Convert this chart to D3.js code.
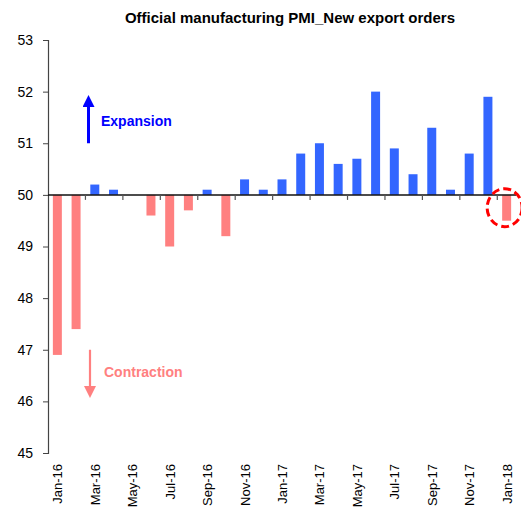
<!DOCTYPE html>
<html>
<head>
<meta charset="utf-8">
<script src="https://cdn.jsdelivr.net/npm/d3@7"></script>
<style>
  html, body { margin: 0; padding: 0; background: #fff; }
  svg { display: block; font-family: "Liberation Sans", Arial, sans-serif; }
</style>
</head>
<body>
<svg id="chart" width="521" height="517"></svg>
<script>
// Monthly categories, Jan-16 .. Jan-18
const months = ["Jan-16","Feb-16","Mar-16","Apr-16","May-16","Jun-16","Jul-16","Aug-16","Sep-16","Oct-16","Nov-16","Dec-16",
                "Jan-17","Feb-17","Mar-17","Apr-17","May-17","Jun-17","Jul-17","Aug-17","Sep-17","Oct-17","Nov-17","Dec-17","Jan-18"];
// New export orders sub-index
const values = [46.9, 47.4, 50.2, 50.1, 50.0, 49.6, 49.0, 49.7, 50.1, 49.2, 50.3, 50.1,
                50.3, 50.8, 51.0, 50.6, 50.7, 52.0, 50.9, 50.4, 51.3, 50.1, 50.8, 51.9, 49.5];
const yTicks = [45, 46, 47, 48, 49, 50, 51, 52, 53];
const xLabels = ["Jan-16","Mar-16","May-16","Jul-16","Sep-16","Nov-16","Jan-17","Mar-17","May-17","Jul-17","Sep-17","Nov-17","Jan-18"];
const baseline = 50;

const svg = d3.select("#chart");
const plotLeft = 48, plotRight = 516, plotTop = 40, plotBottom = 453;

const x = d3.scaleBand().domain(months).range([plotLeft, plotRight]).paddingInner(0.52).paddingOuter(0.26);
const y = d3.scaleLinear().domain([45, 53]).range([plotBottom, plotTop]);

// Title
svg.append("text")
  .attr("x", 290).attr("y", 23)
  .attr("text-anchor", "middle")
  .attr("font-size", 15).attr("font-weight", "bold")
  .attr("fill", "#000")
  .text("Official manufacturing PMI_New export orders");

// Y axis
const yAxis = svg.append("g")
  .attr("transform", `translate(${plotLeft},0)`)
  .call(d3.axisLeft(y).tickValues(yTicks).tickSize(5).tickPadding(10).tickFormat(d3.format("d")));
yAxis.select(".domain").attr("stroke", "#444").attr("stroke-width", 1.2);
yAxis.selectAll(".tick line").attr("stroke", "#444");
yAxis.selectAll(".tick text").attr("font-size", 14).attr("fill", "#000")
  .attr("font-family", "'Liberation Sans', Arial, sans-serif");

// Bars
svg.append("g").selectAll("rect")
  .data(values)
  .join("rect")
  .attr("x", (d, i) => x(months[i]))
  .attr("width", x.bandwidth())
  .attr("y", d => y(Math.max(d, baseline)))
  .attr("height", d => Math.abs(y(d) - y(baseline)))
  .attr("fill", d => d >= baseline ? "#3366ff" : "#ff8080");

// Baseline at 50 with ticks every two months
svg.append("line")
  .attr("x1", plotLeft).attr("x2", plotRight)
  .attr("y1", y(baseline)).attr("y2", y(baseline))
  .attr("stroke", "#111").attr("stroke-width", 1.5);

const step = x.step();
const tickIdx = d3.range(2, months.length, 2);
const boundary = k => x(months[k]) - step * x.paddingInner() / 2;
svg.append("g").selectAll("line")
  .data(tickIdx)
  .join("line")
  .attr("x1", boundary)
  .attr("x2", boundary)
  .attr("y1", y(baseline)).attr("y2", y(baseline) + 5)
  .attr("stroke", "#555").attr("stroke-width", 1.2);

// Category labels, rotated
svg.append("g").selectAll("text")
  .data(xLabels)
  .join("text")
  .attr("transform", d => `translate(${x(d) + x.bandwidth() / 2 + 5},464) rotate(-90)`)
  .attr("text-anchor", "end")
  .attr("font-size", 13)
  .attr("fill", "#000")
  .text(d => d);

// Arrow markers
const defs = svg.append("defs");
function marker(id, color, size) {
  defs.append("marker")
    .attr("id", id)
    .attr("viewBox", "0 0 10 10")
    .attr("refX", 5).attr("refY", 5)
    .attr("markerWidth", size).attr("markerHeight", size)
    .attr("markerUnits", "strokeWidth")
    .attr("orient", "auto")
    .append("path").attr("d", "M0,0 L10,5 L0,10 Z").attr("fill", color);
}
marker("arrUp", "#0000ff", 4);
marker("arrDown", "#ff8080", 5.5);

// Expansion annotation
svg.append("line")
  .attr("x1", 88.5).attr("x2", 88.5)
  .attr("y1", y(51.0)).attr("y2", 101)
  .attr("stroke", "#0000ff").attr("stroke-width", 3)
  .attr("marker-end", "url(#arrUp)");
svg.append("text")
  .attr("x", 101).attr("y", 126)
  .attr("font-size", 14).attr("font-weight", "bold")
  .attr("fill", "#0000ff")
  .text("Expansion");

// Contraction annotation
svg.append("line")
  .attr("x1", 90).attr("x2", 90)
  .attr("y1", y(47.0)).attr("y2", 392)
  .attr("stroke", "#ff8080").attr("stroke-width", 2.2)
  .attr("marker-end", "url(#arrDown)");
svg.append("text")
  .attr("x", 104).attr("y", 377)
  .attr("font-size", 14).attr("font-weight", "bold")
  .attr("fill", "#ff8080")
  .text("Contraction");

// Highlight on the latest month
const last = months[months.length - 1];
svg.append("ellipse")
  .attr("cx", x(last) + x.bandwidth() / 2 - 2)
  .attr("cy", y(values[values.length - 1]) - 13)
  .attr("rx", 17.5).attr("ry", 19)
  .attr("fill", "none")
  .attr("stroke", "#ff0000").attr("stroke-width", 3)
  .attr("stroke-dasharray", "8,4");
</script>
</body>
</html>
